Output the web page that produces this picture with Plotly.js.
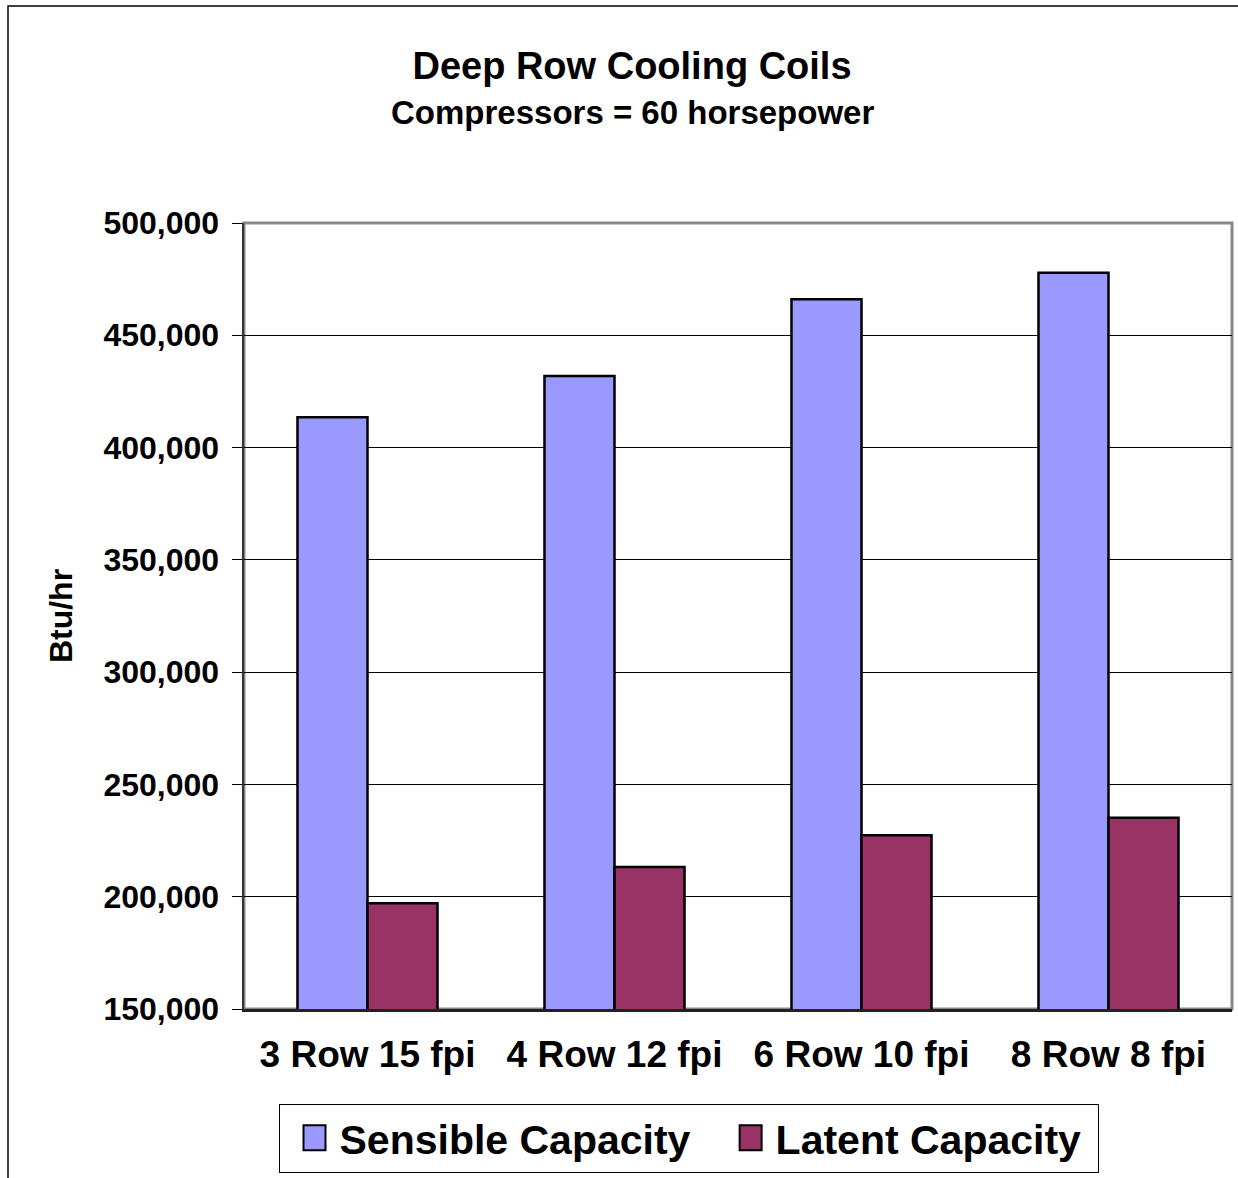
<!DOCTYPE html>
<html>
<head>
<meta charset="utf-8">
<script src="https://cdn.plot.ly/plotly-3.0.1.min.js"></script>
<style>html,body{margin:0;padding:0;background:#fff;}#chart{width:1238px;height:1178px;}</style>
</head>
<body>
<div id="chart"></div>
<script>
const categories = ["3 Row 15 fpi", "4 Row 12 fpi", "6 Row 10 fpi", "8 Row 8 fpi"];
const sensibleCapacity = [413500, 431900, 466000, 477900];
const latentCapacity = [197100, 213200, 227400, 235200];
const seriesNames = ["Sensible Capacity", "Latent Capacity"];
const yTickValues = [150000, 200000, 250000, 300000, 350000, 400000, 450000, 500000];

const FONT = '"Liberation Sans", Arial, sans-serif';

const traces = [
  {
    type: 'bar', name: seriesNames[0], x: categories, y: sensibleCapacity,
    marker: {color: '#9999FF', line: {color: '#000000', width: 2.5}},
    hoverinfo: 'skip'
  },
  {
    type: 'bar', name: seriesNames[1], x: categories, y: latentCapacity,
    marker: {color: '#993366', line: {color: '#000000', width: 2.5}},
    hoverinfo: 'skip'
  }
];

const layout = {
  width: 1238, height: 1178,
  margin: {l: 244, r: 6, t: 223, b: 165, pad: 0},
  paper_bgcolor: '#ffffff', plot_bgcolor: '#ffffff',
  font: {family: FONT, color: '#000000', weight: 'bold'},
  barmode: 'group', bargap: 0.433, bargroupgap: 0,
  showlegend: true,
  title: {
    text: 'Deep Row Cooling Coils',
    font: {family: FONT, size: 38, weight: 'bold', color: '#000'},
    x: 632 / 1238, xref: 'container', xanchor: 'center',
    y: 1 - 66 / 1178, yref: 'container', yanchor: 'middle'
  },
  annotations: [
    {
      text: 'Compressors = 60 horsepower', showarrow: false,
      xref: 'paper', yref: 'paper', x: (632 - 244) / 988, y: (1013 - 112) / 790,
      xanchor: 'center', yanchor: 'middle',
      font: {family: FONT, size: 33, weight: 'bold', color: '#000'}
    }
  ],
  xaxis: {
    type: 'category',
    showgrid: false, zeroline: false,
    showline: true, linecolor: '#222222', linewidth: 2.5,
    ticks: '',
    tickfont: {family: FONT, size: 37, weight: 'bold', color: '#000'},
    ticklabelstandoff: 11,
    fixedrange: true
  },
  yaxis: {
    range: [150000, 500000], tickvals: yTickValues, tickformat: ',d',
    showgrid: true, gridcolor: '#000000', gridwidth: 1,
    zeroline: false,
    showline: true, linecolor: '#333333', linewidth: 2.5,
    ticks: 'outside', ticklen: 10, tickwidth: 1, tickcolor: '#000',
    tickfont: {family: FONT, size: 32, weight: 'bold', color: '#000'},
    ticklabelstandoff: 6,
    title: {text: 'Btu/hr', font: {family: FONT, size: 32, weight: 'bold', color: '#000'}, standoff: 21},
    fixedrange: true
  },
  legend: {
    orientation: 'h', xref: 'paper', yref: 'paper',
    x: (689 - 244) / 988, xanchor: 'center',
    y: (1013 - 1108) / 790, yanchor: 'top',
    bordercolor: '#000000', borderwidth: 1, bgcolor: '#ffffff',
    font: {family: FONT, size: 41, weight: 'bold', color: '#000'},
    itemwidth: 40,
    itemsizing: 'constant'
  },
  shapes: [
    {type: 'rect', xref: 'paper', yref: 'paper', x0: 0, x1: 1, y0: 0, y1: 1,
     line: {color: '#888888', width: 3}, layer: 'below'},
    {type: 'rect', xref: 'paper', yref: 'paper',
     x0: (8 - 244) / 988, x1: (1250 - 244) / 988,
     y0: (1013 - 1190) / 790, y1: (1013 - 5) / 790,
     line: {color: '#000000', width: 1.5}, fillcolor: 'rgba(0,0,0,0)', layer: 'below'}
  ]
};

const TR = /translate\(\s*([-\d.eE]+)[\s,]+([-\d.eE]+)\s*\)/;

Plotly.newPlot('chart', traces, layout, {displayModeBar: false, staticPlot: true}).then(function (gd) {
  try {
    const leg = gd.querySelector('.legend');
    // bigger legend swatches, as in the reference
    leg.querySelectorAll('.legendpoints path').forEach(function (p) {
      p.setAttribute('d', 'M11,12.5H-11V-12.5H11Z');
    });
    // wider spacing between legend entries and a little more padding
    const shifts = [10, 40];
    const extra = 51;
    leg.querySelectorAll('.traces').forEach(function (g, i) {
      const m = TR.exec(g.getAttribute('transform') || '');
      if (m) g.setAttribute('transform', 'translate(' + (+m[1] + (shifts[i] || 0)) + ',' + m[2] + ')');
    });
    const bg = leg.querySelector('rect.bg');
    if (bg) bg.setAttribute('width', +bg.getAttribute('width') + extra);
    document.querySelectorAll('clipPath[id^="legend"] rect').forEach(function (r) {
      r.setAttribute('width', +r.getAttribute('width') + extra);
    });
    const lt = TR.exec(leg.getAttribute('transform') || '');
    if (lt) leg.setAttribute('transform', 'translate(' + (+lt[1] - 26) + ',' + lt[2] + ')');
  } catch (e) { /* keep default legend if anything differs */ }
});
</script>
</body>
</html>
